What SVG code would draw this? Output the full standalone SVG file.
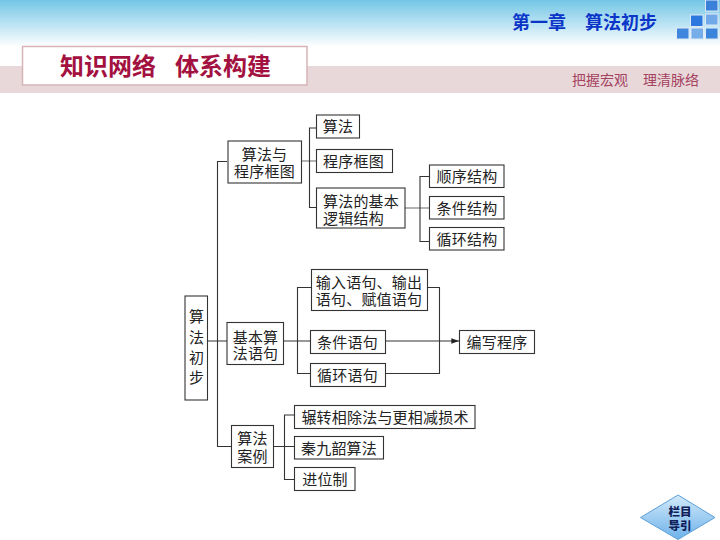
<svg xmlns="http://www.w3.org/2000/svg" width="720" height="540" viewBox="0 0 720 540">
<style>
text{font-family:"Noto Sans CJK SC","Liberation Sans",sans-serif}
.b{fill:#fff;stroke:#333;stroke-width:1.1}
.t{font-size:15px;fill:#222;text-anchor:middle;letter-spacing:.2px}
.c{fill:none;stroke:#333;stroke-width:1.1}
.g{fill:none;stroke:#777;stroke-width:1.1}
.s{stroke:#dfeaf6;stroke-width:1}
</style>
<defs>
<linearGradient id="sky" x1="0" y1="0" x2="0" y2="1"><stop offset="0" stop-color="#74c6e6"/><stop offset="1" stop-color="#fff"/></linearGradient>
<linearGradient id="btn" x1="0" y1="0" x2="0" y2="1"><stop offset="0" stop-color="#d2e9fa"/><stop offset="1" stop-color="#6eb2ea"/></linearGradient>
<marker id="ah" markerWidth="8" markerHeight="6" refX="7" refY="3" orient="auto"><path d="M0 0.5L7 3L0 5.5z" fill="#222"/></marker>
</defs>
<rect width="720" height="540" fill="#fff"/>
<g id="header">
<rect width="720" height="47" fill="url(#sky)"/>
<rect y="66" width="720" height="27" fill="#e8d8da"/>
<rect x="22.5" y="46.5" width="284.500" height="38.500" fill="#fff" stroke="#d8b4b6" stroke-width="1.500"/>
<text x="60" y="75" font-size="24" font-weight="700" fill="#a31140">知识网络</text>
<text x="175" y="75" font-size="24" font-weight="700" fill="#a31140">体系构建</text>
<text x="512" y="29" font-size="18" font-weight="700" fill="#0a35c8">第一章</text>
<text x="585" y="29" font-size="18" font-weight="700" fill="#0a35c8">算法初步</text>
<text x="572" y="85" font-size="14" fill="#a5435f">把握宏观</text>
<text x="643" y="85" font-size="14" fill="#a5435f">理清脉络</text>
<rect class="s" x="705.500" y="0" width="12.500" height="11" fill="#3b80d8"/>
<rect class="s" x="690.500" y="15" width="12.500" height="11.500" fill="#2c78de"/>
<rect class="s" x="705.500" y="14" width="12.500" height="11" fill="#72a9e8"/>
<rect class="s" x="676.500" y="28" width="12.500" height="11" fill="#3f86dc"/>
<rect class="s" x="691" y="28" width="12.500" height="11" fill="#76aeea"/>
<rect class="s" x="705.500" y="28" width="12.500" height="11" fill="#3a84dc"/>
</g>
<g id="connectors">
<path class="c" d="M227 161.500H217.500V446.500H231M207.500 341H227"/>
<path class="g" d="M301.500 161H316"/>
<path class="c" d="M316 128H309.500V207.500H316"/>
<path class="g" d="M405 208H429"/>
<path class="c" d="M429 176.500H420V241.500H429"/>
<path class="c" d="M283.500 341H311M311 287.500H297.500V373.500H311"/>
<path class="c" d="M427 287.500H439.500V373.500H385.500"/>
<path class="c" d="M385.500 341H459" marker-end="url(#ah)"/>
<path class="c" d="M273.500 446.500H295M295 415H284.500V479.500H295"/>
</g>
<g id="n-root"><rect class="b" x="185" y="296" width="22.500" height="104"/>
<text class="t" x="196.500" y="322">算</text><text class="t" x="196.500" y="343">法</text><text class="t" x="196.500" y="363">初</text><text class="t" x="196.500" y="383">步</text></g>
<g id="n-a"><rect class="b" x="228" y="141" width="73.500" height="42"/><text class="t" x="264.500" y="160">算法与</text><text class="t" x="264.500" y="176.500">程序框图</text></g>
<g id="n-b"><rect class="b" x="227" y="322.500" width="56.500" height="42"/><text class="t" x="255.500" y="342.500">基本算</text><text class="t" x="255.500" y="358.500">法语句</text></g>
<g id="n-c"><rect class="b" x="231.500" y="425.500" width="42" height="42"/><text class="t" x="252.500" y="443.500">算法</text><text class="t" x="252.500" y="461.500">案例</text></g>
<g id="n-a1"><rect class="b" x="316.500" y="115" width="43" height="23"/><text class="t" x="338" y="132">算法</text></g>
<g id="n-a2"><rect class="b" x="316.500" y="149.500" width="76" height="23"/><text class="t" x="353.500" y="166.500">程序框图</text></g>
<g id="n-a3"><rect class="b" x="316.500" y="188" width="88.500" height="40"/><text class="t" x="361" y="206.500">算法的基本</text><text class="t" x="353.500" y="223.500">逻辑结构</text></g>
<g id="n-a31"><rect class="b" x="429.500" y="165" width="74.500" height="22.500"/><text class="t" x="467" y="182">顺序结构</text></g>
<g id="n-a32"><rect class="b" x="429.500" y="196.500" width="74.500" height="22.500"/><text class="t" x="467" y="213.500">条件结构</text></g>
<g id="n-a33"><rect class="b" x="429.500" y="227.500" width="74.500" height="22.500"/><text class="t" x="467" y="244.500">循环结构</text></g>
<g id="n-b1"><rect class="b" x="311.500" y="269.500" width="116" height="41"/><text class="t" x="369" y="287.500">输入语句、输出</text><text class="t" x="369" y="304.500">语句、赋值语句</text></g>
<g id="n-b2"><rect class="b" x="310.500" y="330.500" width="75" height="23"/><text class="t" x="347.500" y="347.500">条件语句</text></g>
<g id="n-b3"><rect class="b" x="310.500" y="363.500" width="75" height="23"/><text class="t" x="347.500" y="380.500">循环语句</text></g>
<g id="n-p"><rect class="b" x="459.500" y="330.500" width="75" height="23"/><text class="t" x="497" y="347.500">编写程序</text></g>
<g id="n-c1"><rect class="b" x="294.500" y="405.500" width="180.500" height="23"/><text class="t" x="385" y="422.500">辗转相除法与更相减损术</text></g>
<g id="n-c2"><rect class="b" x="294.500" y="436.500" width="89" height="22.500"/><text class="t" x="339" y="453.500">秦九韶算法</text></g>
<g id="n-c3"><rect class="b" x="294.500" y="467.500" width="60.500" height="23"/><text class="t" x="325" y="484.500">进位制</text></g>
<g id="n-nav"><path d="M678 495L715 517.500L678 539.500L640.500 517.500Z" fill="url(#btn)" stroke="#5c9fd8"/>
<text x="680" y="516" font-size="11.500" font-weight="900" fill="#10205a" text-anchor="middle">栏目</text>
<text x="680" y="530" font-size="11.500" font-weight="900" fill="#10205a" text-anchor="middle">导引</text></g>
</svg>
